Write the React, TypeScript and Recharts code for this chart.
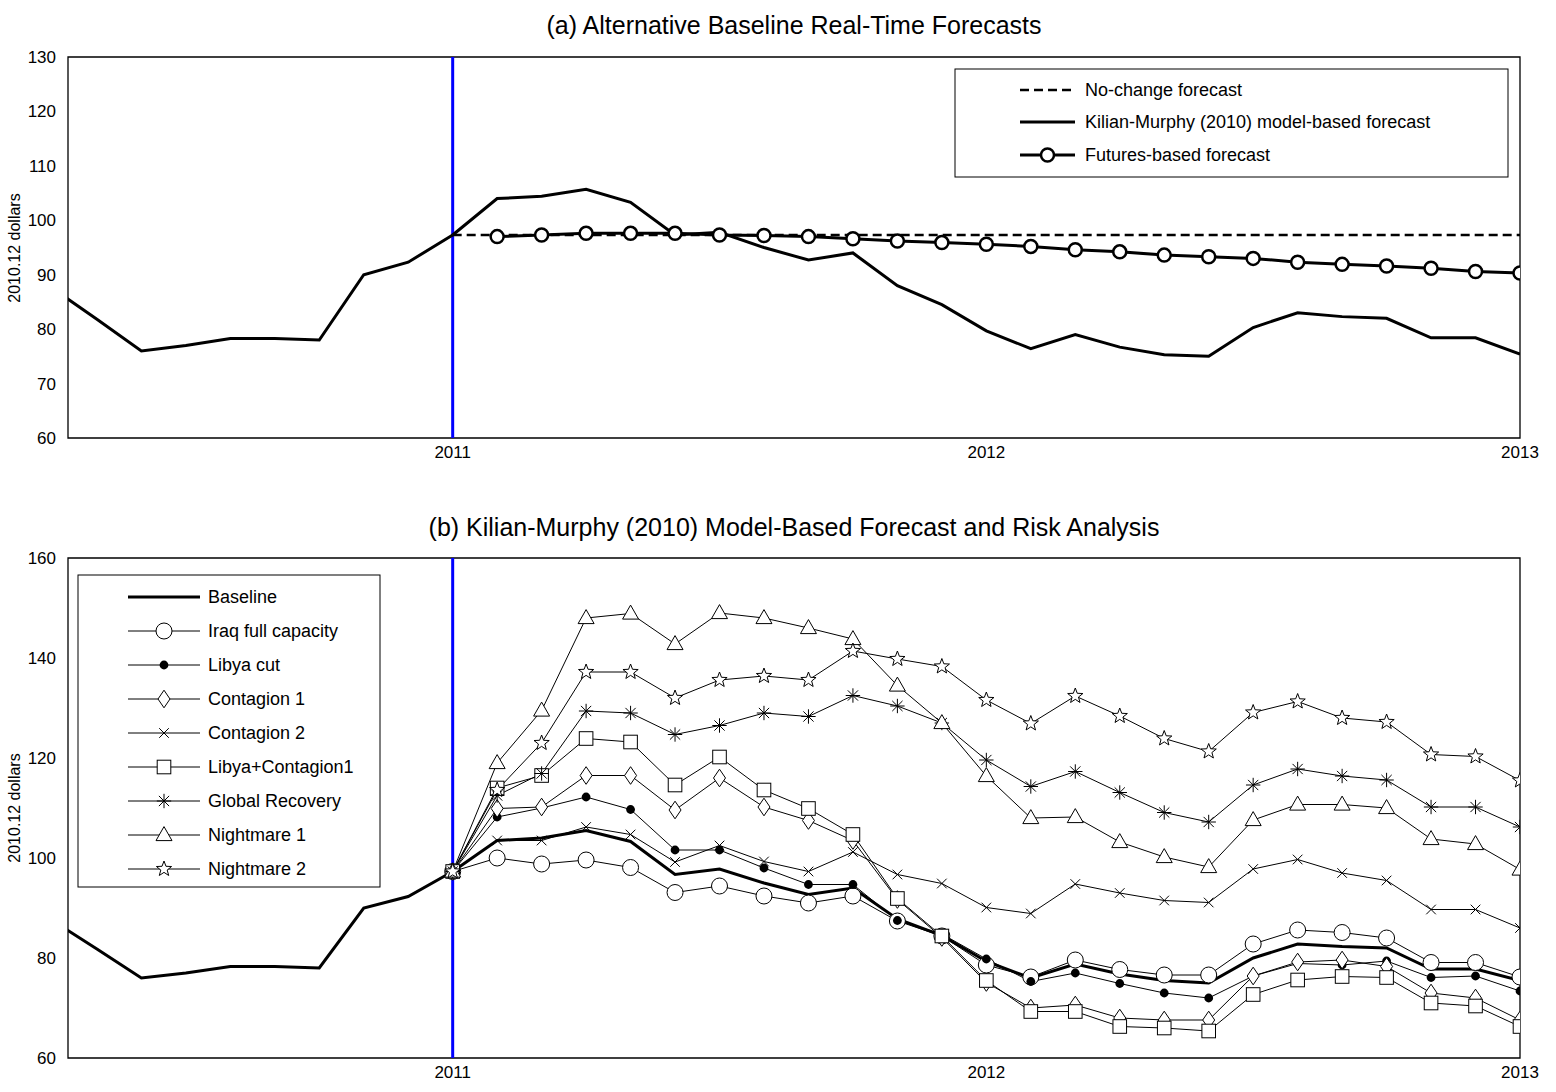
import { Line, LineChart, ReferenceArea, ReferenceLine, XAxis, YAxis } from "recharts";

// months relative to Jan 2011 (0 = 2011, 12 = 2012, 24 = 2013)
const historyMonths = [-9, -8, -7, -6, -5, -4, -3, -2, -1, 0];
const historyValues = [87.5, 81.8, 76, 77, 78.3, 78.3, 78, 90, 92.3, 97.3];
const forecastMonths = [0, 1, 2, 3, 4, 5, 6, 7, 8, 9, 10, 11, 12, 13, 14, 15, 16, 17, 18, 19, 20, 21, 22, 23, 24];

const kilianMurphy = [97.3, 104, 104.4, 105.7, 103.3, 97.3, 97.8, 95, 92.7, 94, 88, 84.5, 79.7, 76.4, 79, 76.7, 75.3, 75, 80.3, 83, 82.3, 82, 78.4, 78.4, 75.4];
const noChange = [97.3, 97.3, 97.3, 97.3, 97.3, 97.3, 97.3, 97.3, 97.3, 97.3, 97.3, 97.3, 97.3, 97.3, 97.3, 97.3, 97.3, 97.3, 97.3, 97.3, 97.3, 97.3, 97.3, 97.3, 97.3];
const futures = [null, 97, 97.3, 97.6, 97.6, 97.6, 97.3, 97.2, 97, 96.6, 96.2, 95.9, 95.6, 95.2, 94.6, 94.2, 93.6, 93.3, 93, 92.3, 91.9, 91.6, 91.2, 90.6, 90.3];

const baseline = [97.3, 103.5, 104, 105.5, 103.3, 96.7, 97.8, 95, 92.7, 94, 87.8, 84.5, 79.3, 76, 78.8, 76.8, 75.5, 75, 80, 82.8, 82.3, 82, 77.8, 77.8, 75.5];
const iraqFull = [97.3, 100, 98.8, 99.6, 98.1, 93.1, 94.4, 92.4, 91, 92.4, 87.4, 84.4, 78.6, 76.2, 79.6, 77.7, 76.6, 76.6, 82.8, 85.6, 85.1, 84, 79.1, 79.1, 76.2];
const libyaCut = [97.3, 108.2, 110, 112.2, 109.7, 101.6, 101.6, 98, 94.7, 94.7, 87.5, 84.8, 79.8, 75.3, 77, 74.9, 73, 72, 76.4, 78.9, 78.6, 79.4, 76.1, 76.4, 73.4];
const contagion1 = [97.3, 109.9, 110.2, 116.5, 116.5, 109.6, 116, 110.2, 107.5, 103.5, 91.7, 84.1, 75.1, 70, 70.6, 68, 67.6, 67.6, 76.4, 79.2, 79.6, 78.3, 73, 72, 67.6];
const contagion2 = [97.3, 103.5, 103.5, 106.2, 104.7, 99.2, 102.5, 99.3, 97.3, 101.2, 96.7, 94.9, 90.1, 88.9, 94.8, 93, 91.5, 91.1, 97.8, 99.7, 97, 95.5, 89.7, 89.7, 86];
const libyaContagion1 = [97.3, 114, 116.5, 123.9, 123.2, 114.6, 120.2, 113.6, 109.9, 104.7, 91.9, 84.4, 75.5, 69.3, 69.3, 66.3, 66, 65.4, 72.7, 75.6, 76.3, 76.1, 71, 70.4, 66.3];
const globalRecovery = [97.3, 112.5, 116.9, 129.4, 129, 124.7, 126.5, 129, 128.3, 132.5, 130.4, 127, 119.6, 114.3, 117.3, 113.1, 109.1, 107.2, 114.6, 117.8, 116.4, 115.6, 110.2, 110.2, 106.2];
const nightmare1 = [97.3, 119, 129.5, 148, 148.9, 142.8, 149, 148, 146, 143.8, 134.5, 127, 116.4, 108, 108.2, 103.2, 100.2, 98.2, 107.6, 110.7, 110.7, 110, 103.8, 102.8, 97.7];
const nightmare2 = [97.3, 113.6, 123, 137.2, 137.2, 132, 135.6, 136.4, 135.6, 141.4, 139.8, 138.3, 131.6, 126.9, 132.4, 128.4, 123.9, 121.3, 129.1, 131.3, 128, 127.2, 120.7, 120.3, 115.5];

const xTicks = [0, 12, 24];
const xTickLabels = ["2011", "2012", "2013"];
const yTicksA = [60, 70, 80, 90, 100, 110, 120, 130];
const yTicksB = [60, 80, 100, 120, 140, 160];

type Shape = "circle" | "dot" | "diamond" | "x" | "square" | "asterisk" | "triangle" | "star" | "none";

const scenarios: { key: string; name: string; values: number[]; shape: Shape }[] = [
  { key: "iraq", name: "Iraq full capacity", values: iraqFull, shape: "circle" },
  { key: "libya", name: "Libya cut", values: libyaCut, shape: "dot" },
  { key: "c1", name: "Contagion 1", values: contagion1, shape: "diamond" },
  { key: "c2", name: "Contagion 2", values: contagion2, shape: "x" },
  { key: "lc1", name: "Libya+Contagion1", values: libyaContagion1, shape: "square" },
  { key: "gr", name: "Global Recovery", values: globalRecovery, shape: "asterisk" },
  { key: "n1", name: "Nightmare 1", values: nightmare1, shape: "triangle" },
  { key: "n2", name: "Nightmare 2", values: nightmare2, shape: "star" },
];

function buildRows(): Record<string, number | null>[] {
  const rows: Record<string, number | null>[] = [];
  historyMonths.forEach((m, i) => {
    rows.push({ m, hist: historyValues[i] });
  });
  forecastMonths.forEach((m, i) => {
    let row = rows.find((r) => r.m === m);
    if (!row) {
      row = { m };
      rows.push(row);
    }
    row.km = kilianMurphy[i];
    row.nc = noChange[i];
    row.fut = futures[i];
    row.base = baseline[i];
    scenarios.forEach((s) => {
      row![s.key] = s.values[i];
    });
  });
  return rows;
}
const rows = buildRows();

function Mark({ shape, cx, cy, s = 8, sw = 1 }: { shape: Shape; cx: number; cy: number; s?: number; sw?: number }) {
  const st = { stroke: "#000", strokeWidth: sw, fill: "#fff" };
  switch (shape) {
    case "circle":
      return <circle cx={cx} cy={cy} r={s} {...st} />;
    case "dot":
      return <circle cx={cx} cy={cy} r={s * 0.55} fill="#000" />;
    case "diamond":
      return <polygon points={`${cx},${cy - s * 1.1} ${cx + s * 0.75},${cy} ${cx},${cy + s * 1.1} ${cx - s * 0.75},${cy}`} {...st} />;
    case "square":
      return <rect x={cx - s * 0.85} y={cy - s * 0.85} width={s * 1.7} height={s * 1.7} {...st} />;
    case "triangle":
      return <polygon points={`${cx},${cy - s * 1.05} ${cx + s},${cy + s * 0.7} ${cx - s},${cy + s * 0.7}`} {...st} />;
    case "x": {
      const d = s * 0.6;
      return <path d={`M${cx - d},${cy - d}L${cx + d},${cy + d}M${cx - d},${cy + d}L${cx + d},${cy - d}`} stroke="#000" strokeWidth={sw} />;
    }
    case "asterisk": {
      const d = s * 0.9, e = s * 0.64;
      return <path d={`M${cx - d},${cy}L${cx + d},${cy}M${cx},${cy - d}L${cx},${cy + d}M${cx - e},${cy - e}L${cx + e},${cy + e}M${cx - e},${cy + e}L${cx + e},${cy - e}`} stroke="#000" strokeWidth={sw} />;
    }
    case "star": {
      const pts: string[] = [];
      for (let k = 0; k < 10; k++) {
        const r = k % 2 === 0 ? s : s * 0.42;
        const a = -Math.PI / 2 + (k * Math.PI) / 5;
        pts.push(`${cx + r * Math.cos(a)},${cy + r * Math.sin(a)}`);
      }
      return <polygon points={pts.join(" ")} {...st} />;
    }
    default:
      return null;
  }
}

const font = "'Liberation Sans', Arial, sans-serif";
const tickStyle = { fill: "#000", fontSize: 17, fontFamily: font };

function Axes({ ticks, domain }: { ticks: number[]; domain: [number, number] }) {
  return (
    <>
      <XAxis
        dataKey="m"
        type="number"
        domain={[-8.65, 24]}
        allowDataOverflow
        ticks={xTicks}
        tickFormatter={(v: number) => xTickLabels[xTicks.indexOf(v)] ?? ""}
        tick={tickStyle}
        tickLine={false}
        axisLine={false}
        height={30}
      />
      <YAxis domain={domain} ticks={ticks} allowDataOverflow tick={tickStyle} tickLine={false} tickMargin={6} axisLine={false} width={50} interval={0} />
      <ReferenceArea x1={-8.65} x2={24} y1={domain[0]} y2={domain[1]} fill="none" stroke="#000" strokeWidth={1.3} ifOverflow="visible" />
      <ReferenceLine x={0} stroke="#0000ff" strokeWidth={3} />
    </>
  );
}

function SwatchRow({ y, label, shape, dash, width = 2.5, s, sw, x0, x1, tx }: { y: number; label: string; shape: Shape; dash?: string; width?: number; s: number; sw: number; x0: number; x1: number; tx: number }) {
  return (
    <g>
      <line x1={x0} x2={x1} y1={y} y2={y} stroke="#000" strokeWidth={width} strokeDasharray={dash} />
      <Mark shape={shape} cx={(x0 + x1) / 2} cy={y} s={s} sw={sw} />
      <text x={tx} y={y + 6} fontSize={18} fontFamily={font}>{label}</text>
    </g>
  );
}

function YLabel({ top }: { top: number }) {
  return (
    <div style={{ position: "absolute", left: 15, top, transform: "translate(-50%, -50%) rotate(-90deg)", fontSize: 16, fontFamily: font, whiteSpace: "nowrap" }}>
      2010.12 dollars
    </div>
  );
}

export default function App() {
  return (
    <div style={{ position: "absolute", left: 0, top: 0, width: 1556, height: 1092, background: "#fff", fontFamily: font }}>
      <div style={{ position: "absolute", left: 68, width: 1452, top: 11, textAlign: "center", fontSize: 25 }}>(a) Alternative Baseline Real-Time Forecasts</div>
      <div style={{ position: "absolute", left: 0, top: 20 }}>
        <LineChart width={1556} height={470} data={rows} margin={{ top: 37, right: 36, bottom: 22, left: 18 }}>
          <Axes ticks={yTicksA} domain={[60, 130]} />
          <Line dataKey="hist" stroke="#000" strokeWidth={3} dot={false} isAnimationActive={false} />
          <Line dataKey="km" stroke="#000" strokeWidth={3} dot={false} isAnimationActive={false} />
          <Line dataKey="nc" stroke="#000" strokeWidth={2.5} strokeDasharray="9 5" dot={false} isAnimationActive={false} />
          <Line
            dataKey="fut"
            stroke="#000"
            strokeWidth={3}
            isAnimationActive={false}
            dot={(p: any) => (p.value == null ? <g key={p.key} /> : <g key={p.key}><Mark shape="circle" cx={p.cx} cy={p.cy} s={6.5} sw={2.5} /></g>)}
          />
        </LineChart>
      </div>
      <YLabel top={248} />
      <svg style={{ position: "absolute", left: 0, top: 0 }} width={1556} height={200}>
        <rect x={955} y={69} width={553} height={108} fill="#fff" stroke="#000" strokeWidth={1} />
        <SwatchRow y={90} label="No-change forecast" shape="none" dash="9 5" s={6.5} sw={2.5} x0={1020} x1={1075} tx={1085} />
        <SwatchRow y={122} label="Kilian-Murphy (2010) model-based forecast" shape="none" width={3} s={6.5} sw={2.5} x0={1020} x1={1075} tx={1085} />
        <SwatchRow y={155} label="Futures-based forecast" shape="circle" width={3} s={6.5} sw={2.5} x0={1020} x1={1075} tx={1085} />
      </svg>

      <div style={{ position: "absolute", left: 68, width: 1452, top: 513, textAlign: "center", fontSize: 25 }}>(b) Kilian-Murphy (2010) Model-Based Forecast and Risk Analysis</div>
      <div style={{ position: "absolute", left: 0, top: 520 }}>
        <LineChart width={1556} height={580} data={rows} margin={{ top: 38, right: 36, bottom: 12, left: 18 }}>
          <Axes ticks={yTicksB} domain={[60, 160]} />
          <Line dataKey="hist" stroke="#000" strokeWidth={3} dot={false} isAnimationActive={false} />
          {scenarios.map((s) => (
            <Line
              key={s.key}
              dataKey={s.key}
              stroke="#000"
              strokeWidth={1}
              isAnimationActive={false}
              dot={(p: any) => (p.value == null ? <g key={p.key} /> : <g key={p.key}><Mark shape={s.shape} cx={p.cx} cy={p.cy} s={8} sw={1} /></g>)}
            />
          ))}
          <Line dataKey="base" stroke="#000" strokeWidth={3} dot={false} isAnimationActive={false} />
        </LineChart>
      </div>
      <YLabel top={808} />
      <svg style={{ position: "absolute", left: 0, top: 560 }} width={400} height={340}>
        <rect x={78} y={15} width={302} height={312} fill="#fff" stroke="#000" strokeWidth={1} />
        <SwatchRow y={37} label="Baseline" shape="none" width={3} s={8} sw={1} x0={128} x1={200} tx={208} />
        {scenarios.map((s, i) => (
          <SwatchRow key={s.key} y={71 + i * 34} label={s.name} shape={s.shape} width={1} s={8} sw={1} x0={128} x1={200} tx={208} />
        ))}
      </svg>
    </div>
  );
}
